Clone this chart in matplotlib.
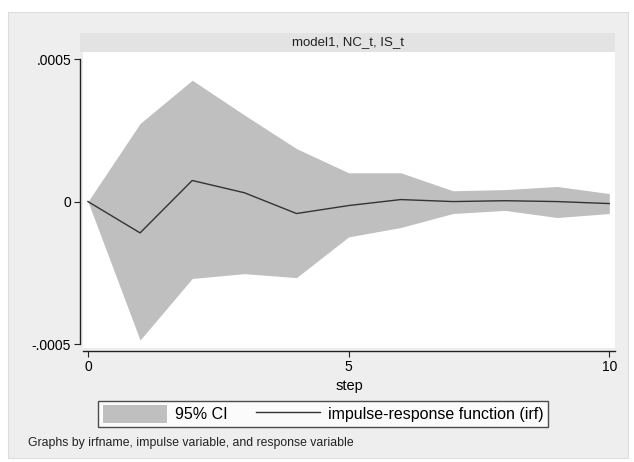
import matplotlib
matplotlib.use('Agg')
import matplotlib.pyplot as plt
from matplotlib.patches import Rectangle, Patch
from matplotlib.lines import Line2D

plt.rcParams['font.family'] = ['Liberation Sans', 'DejaVu Sans']

# -- data ---------------------------------------------------------------------
steps = [0, 1, 2, 3, 4, 5, 6, 7, 8, 9, 10]
irf = [0.0, -0.00011, 0.000074, 0.000031, -0.000042, -0.000014,
       0.000007, 0.0, 0.000003, 0.0, -0.000007]
ci_upper = [0.0, 0.000274, 0.000426, 0.000304, 0.000186, 0.000101,
            0.000101, 0.000038, 0.000042, 0.000053, 0.000028]
ci_lower = [0.0, -0.000486, -0.00027, -0.000253, -0.000267, -0.000124,
            -0.000091, -0.000042, -0.000031, -0.000056, -0.000042]
y_ticks = [-0.0005, 0.0, 0.0005]
y_tick_labels = ['-.0005', '0', '.0005']
x_ticks = [0, 5, 10]
panel_title = 'model1, NC_t, IS_t'
note = 'Graphs by irfname, impulse variable, and response variable'

# -- style --------------------------------------------------------------------
OUTER_BG = '#eeeeee'
STRIP_BG = '#e3e3e3'
BAND = '#bfbfbf'
LINE = '#333333'
INK = '#222222'

W, H = 634, 462
fig = plt.figure(figsize=(W / 100, H / 100), dpi=100)
fig.patch.set_facecolor('white')
fig.add_artist(Rectangle((8 / W, 4 / H), 620 / W, 446 / H,
                         transform=fig.transFigure, facecolor=OUTER_BG,
                         edgecolor='#dddddd', linewidth=0.8, zorder=-10))

# plot region (pixel edges measured on the reference)
left, right = 83 / W, 615 / W
top, bottom = 1 - 52 / H, 1 - 348 / H
ax = fig.add_axes([left, bottom, right - left, top - bottom])
ax.set_facecolor('white')
ax.fill_between(steps, ci_lower, ci_upper, color=BAND, linewidth=0)
ax.plot(steps, irf, color=LINE, linewidth=1.0)

ax.set_xlim(-0.095, 10.11)
ax.set_ylim(-0.000514, 0.000525)
ax.set_xticks(x_ticks)
ax.set_xticklabels([str(t) for t in x_ticks], fontsize=8)
ax.set_yticks(y_ticks)
ax.set_yticklabels(y_tick_labels, fontsize=6.8)
ax.tick_params(axis='both', length=4, width=0.8, color=INK, pad=2.5)
ax.set_xlabel('step', fontsize=10.5, labelpad=4)

for side in ('top', 'right'):
    ax.spines[side].set_visible(False)
ax.spines['left'].set_position(('outward', 2))
ax.spines['bottom'].set_position(('outward', 2))
ax.spines['left'].set_bounds(-0.0005, 0.0005)
for side in ('left', 'bottom'):
    ax.spines[side].set_linewidth(1.0)
    ax.spines[side].set_color(INK)

# title strip
strip = fig.add_axes([80 / W, 1 - 52 / H, 535 / W, 19 / H])
strip.set_facecolor(STRIP_BG)
strip.set_xticks([])
strip.set_yticks([])
for s in strip.spines.values():
    s.set_visible(False)
strip.text(0.5, 0.5, panel_title, ha='center', va='center', fontsize=9.5,
           color=INK, transform=strip.transAxes)

# legend
handles = [Patch(facecolor=BAND, edgecolor='none'),
           Line2D([0], [0], color=LINE, linewidth=1.0)]
labels = ['95% CI', 'impulse-response function (irf)']
leg = fig.legend(handles, labels, ncol=2, loc='center',
                 bbox_to_anchor=(323 / W, 1 - 414 / H), fontsize=11.5,
                 frameon=True, fancybox=False, handlelength=4.0,
                 handleheight=1.3, columnspacing=1.8, borderpad=0.3,
                 handletextpad=0.5)
leg.get_frame().set_edgecolor(INK)
leg.get_frame().set_linewidth(1.0)
leg.get_frame().set_facecolor('white')

fig.text(28 / W, 1 - 443 / H, note, fontsize=8.8, va='center', ha='left',
         color=INK)

fig.savefig('out.png', dpi=100, facecolor=fig.get_facecolor())
